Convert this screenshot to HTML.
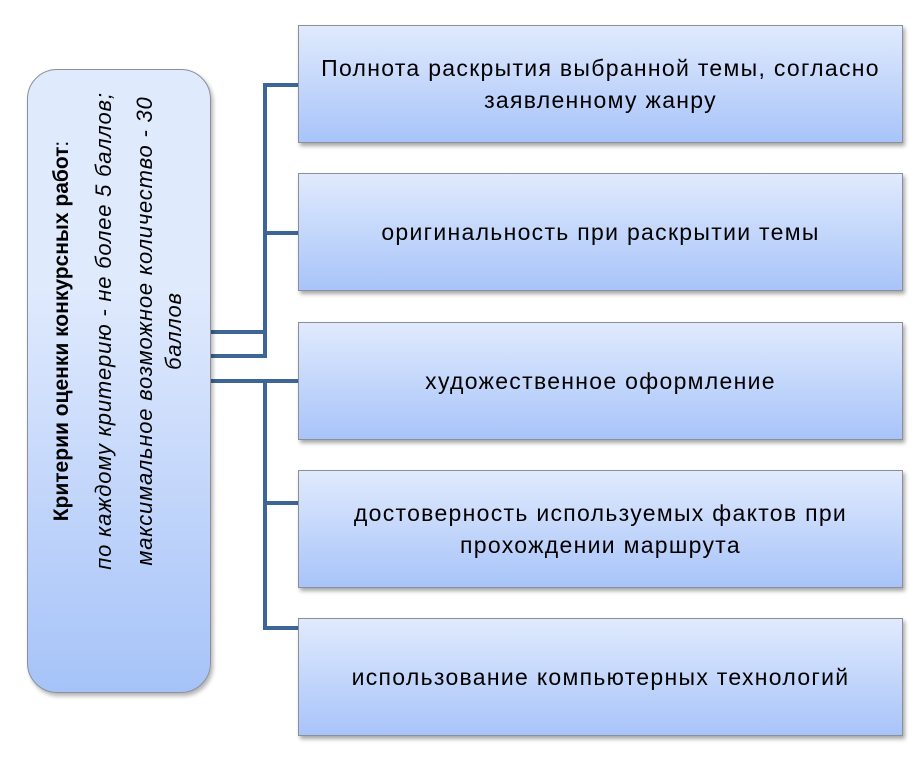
<!DOCTYPE html>
<html><head><meta charset="utf-8"><style>
body{margin:0;width:920px;height:763px;background:#fff;position:relative;overflow:hidden;font-family:"Liberation Sans","DejaVu Sans",sans-serif;}
.b{position:absolute;left:298px;width:605px;height:118px;box-sizing:border-box;border:1px solid #8a8f99;background:linear-gradient(#e0eafd,#a8c4f9);box-shadow:2px 3px 4px rgba(0,0,0,.35);display:flex;align-items:center;justify-content:center;text-align:center;font-size:23px;letter-spacing:1.3px;line-height:32px;color:#000;padding:0 14px;}
.l{position:absolute;background:#3d6596;}
.L{position:absolute;left:27px;top:69px;width:184px;height:624px;box-sizing:border-box;border:1px solid #8a8f99;border-radius:30px;background:linear-gradient(#e0eafd 35%,#a6c3f8);box-shadow:2px 3px 4px rgba(0,0,0,.3);}
.t{position:absolute;width:600px;height:26px;line-height:26px;text-align:center;font-size:21px;transform:rotate(-90deg);white-space:nowrap;top:318px;}
.i{font-style:italic;font-size:22px;letter-spacing:0.8px;}
</style></head><body>
<div class="l" style="left:211px;top:330px;width:56px;height:4px"></div>
<div class="l" style="left:211px;top:354px;width:56px;height:4px"></div>
<div class="l" style="left:211px;top:379px;width:88px;height:4px"></div>
<div class="l" style="left:263px;top:83px;width:4px;height:275px"></div>
<div class="l" style="left:263px;top:83px;width:36px;height:4px"></div>
<div class="l" style="left:263px;top:231px;width:36px;height:4px"></div>
<div class="l" style="left:263px;top:379px;width:4px;height:251px"></div>
<div class="l" style="left:263px;top:501px;width:36px;height:4px"></div>
<div class="l" style="left:263px;top:626px;width:36px;height:4px"></div>
<div class="L"></div>
<div class="t" style="left:-238px;"><b>Критерии оценки конкурсных работ</b>:</div>
<div class="t i" style="left:-196px;">по каждому критерию - не более 5 баллов;</div>
<div class="t i" style="left:-155px;">максимальное возможное количество - 30</div>
<div class="t i" style="left:-126px;">баллов</div>
<div class="b" style="top:25px">Полнота раскрытия выбранной темы, согласно заявленному жанру</div>
<div class="b" style="top:173px">оригинальность при раскрытии темы</div>
<div class="b" style="top:322px">художественное оформление</div>
<div class="b" style="top:470px">достоверность используемых фактов при<br>прохождении маршрута</div>
<div class="b" style="top:618px">использование компьютерных технологий</div>
</body></html>
